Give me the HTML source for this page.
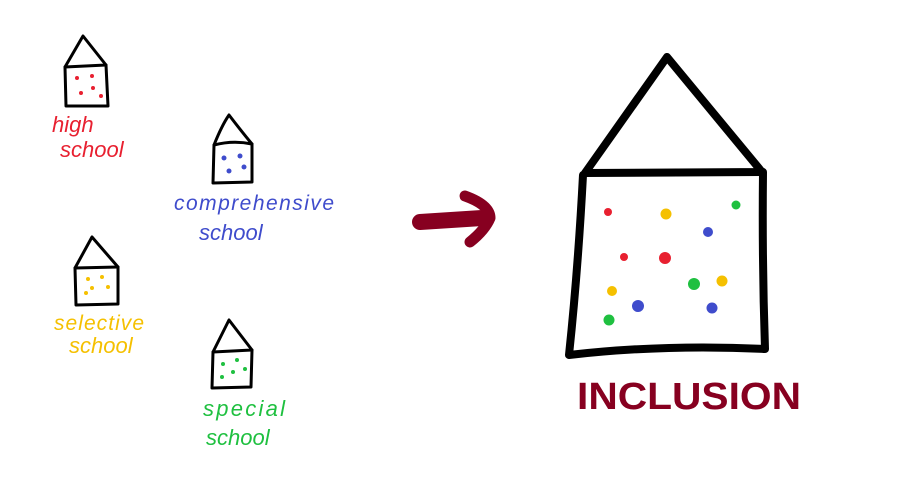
<!DOCTYPE html>
<html><head><meta charset="utf-8"><style>
html,body{margin:0;padding:0;background:#fff;width:900px;height:482px;overflow:hidden}
svg{display:block}
text{font-family:"Liberation Sans",sans-serif}
</style></head><body>
<svg width="900" height="482" viewBox="0 0 900 482" xmlns="http://www.w3.org/2000/svg">
<g fill="none" stroke="#000" stroke-width="3" stroke-linejoin="round" stroke-linecap="round">
<!-- high -->
<path d="M65,67 L83,36 L106,65 Z"/><path d="M65,67 L66,106 L108,106 L106,65"/>
<!-- comprehensive -->
<path d="M214,145 Q222,125 229,115 Q242,132 252,144 Q233,140 214,145"/><path d="M214,145 L213,183 L252,182 L252,144"/>
<!-- selective -->
<path d="M75,268 L92,237 L118,267 Z"/><path d="M75,268 L76,305 L118,304 L118,267"/>
<!-- special -->
<path d="M213,352 L229,320 L252,350 Z"/><path d="M213,352 L212,388 L251,387 L252,350"/>
</g>
<!-- big house -->
<g fill="none" stroke="#000" stroke-width="8" stroke-linejoin="round" stroke-linecap="round">
<path d="M585,173 L667,57 L762,172 Z"/>
<path d="M583,175 Q578,270 569,355 Q665,344 765,349 Q762,260 763,172"/>
</g>
<!-- small dots -->
<g fill="#e82030"><circle cx="77" cy="78" r="2"/><circle cx="92" cy="76" r="2"/><circle cx="81" cy="93" r="2"/><circle cx="93" cy="88" r="2"/><circle cx="101" cy="96" r="2"/></g>
<g fill="#3f4ccc"><circle cx="224" cy="158" r="2.5"/><circle cx="240" cy="156" r="2.5"/><circle cx="229" cy="171" r="2.5"/><circle cx="244" cy="167" r="2.5"/></g>
<g fill="#f5c000"><circle cx="88" cy="279" r="2"/><circle cx="102" cy="277" r="2"/><circle cx="92" cy="288" r="2"/><circle cx="108" cy="287" r="2"/><circle cx="86" cy="293" r="2"/></g>
<g fill="#1fc040"><circle cx="223" cy="364" r="2"/><circle cx="237" cy="360" r="2"/><circle cx="233" cy="372" r="2"/><circle cx="245" cy="369" r="2"/><circle cx="222" cy="377" r="2"/></g>
<!-- big dots -->
<g fill="#e82030"><circle cx="608" cy="212" r="4"/><circle cx="624" cy="257" r="4"/><circle cx="665" cy="258" r="6"/></g>
<g fill="#f5c000"><circle cx="666" cy="214" r="5.5"/><circle cx="612" cy="291" r="5"/><circle cx="722" cy="281" r="5.5"/></g>
<g fill="#3f4ccc"><circle cx="708" cy="232" r="5"/><circle cx="638" cy="306" r="6"/><circle cx="712" cy="308" r="5.5"/></g>
<g fill="#1fc040"><circle cx="736" cy="205" r="4.5"/><circle cx="694" cy="284" r="6"/><circle cx="609" cy="320" r="5.5"/></g>
<!-- arrow -->
<g fill="none" stroke="#870020" stroke-linecap="round" stroke-linejoin="round">
<path d="M420,222 L482,218" stroke-width="16"/>
<path d="M465,196 Q490,205 490,218 Q485,230 470,242" stroke-width="11"/>
</g>
<!-- labels -->
<g font-family="'Liberation Sans',sans-serif" font-size="22" font-style="italic">
<text x="52" y="132" fill="#e82030" font-size="22">high</text>
<text x="60" y="157" fill="#e82030" font-size="22">school</text>
<text x="174" y="210" fill="#3f4ccc" font-size="21" textLength="160">comprehensive</text>
<text x="199" y="240" fill="#3f4ccc" font-size="22">school</text>
<text x="54" y="330" fill="#f5c000" font-size="21" textLength="90">selective</text>
<text x="69" y="353" fill="#f5c000" font-size="22">school</text>
<text x="203" y="416" fill="#1fc040" font-size="22" textLength="82">special</text>
<text x="206" y="445" fill="#1fc040" font-size="22">school</text>
</g>
<text x="577" y="409" fill="#870020" font-size="38" font-weight="bold" textLength="224" lengthAdjust="spacingAndGlyphs">INCLUSION</text>
</svg>
</body></html>
